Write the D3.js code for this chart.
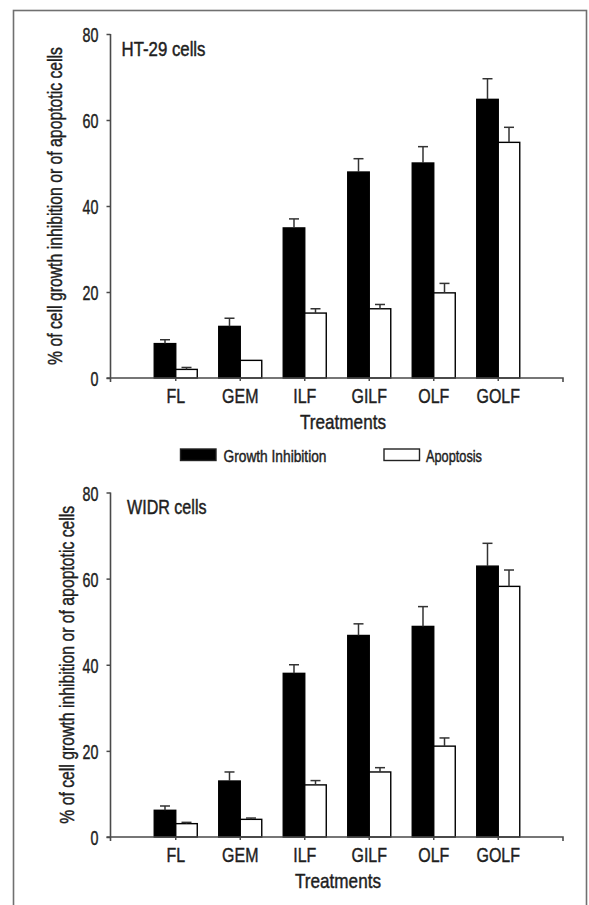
<!DOCTYPE html>
<html>
<head>
<meta charset="utf-8">
<script src="https://cdn.jsdelivr.net/npm/d3@7"></script>
<style>
  html, body { margin: 0; padding: 0; background: #fff; }
  svg { display: block; }
  text { font-family: "Liberation Sans", Arial, sans-serif; fill: #1e1e1e; stroke: #1e1e1e; stroke-width: 0.45px; }
</style>
</head>
<body>
<svg id="chart" width="589" height="905"></svg>
<script>
// ---------- data ----------
const categories = ["FL", "GEM", "ILF", "GILF", "OLF", "GOLF"];
const yTicks = [0, 20, 40, 60, 80];
const seriesNames = ["Growth Inhibition", "Apoptosis"];
const panelTitles = ["HT-29 cells", "WIDR cells"];
const xTitle = "Treatments";
const yTitle = "% of cell growth inhibition or of apoptotic cells";

const ht29Growth       = [8.0, 12.0, 34.9, 47.9, 50.0, 64.8];
const ht29GrowthErr    = [0.9, 1.9, 2.1, 3.1, 3.8, 4.8];
const ht29Apoptosis    = [2.0, 4.1, 15.1, 16.1, 19.8, 54.8];
const ht29ApoptosisErr = [0.45, 0, 1.0, 1.0, 2.2, 3.5];

const widrGrowth       = [6.2, 13.0, 38.0, 46.8, 48.9, 62.9];
const widrGrowthErr    = [1.0, 2.1, 2.0, 2.7, 4.6, 5.3];
const widrApoptosis    = [3.1, 4.1, 12.1, 15.1, 21.1, 58.2];
const widrApoptosisErr = [0.3, 0.3, 1.0, 1.0, 1.9, 3.8];

// ---------- layout ----------
const svg = d3.select("#chart");
const axisX = 110.5, axisEnd = 563;
const panels = [
  { title: panelTitles[0], top: 34, bottom: 378, titleX: 121.5, titleW: 84, ylabX: 62, xTitleX: 343,
    series: [[ht29Growth, ht29GrowthErr], [ht29Apoptosis, ht29ApoptosisErr]] },
  { title: panelTitles[1], top: 492.5, bottom: 837, titleX: 127, titleW: 79.5, ylabX: 73.5, xTitleX: 338,
    series: [[widrGrowth, widrGrowthErr], [widrApoptosis, widrApoptosisErr]] }
];
const fills = ["#000", "#fff"];
const axisColor = "#4a4a4a";

// frame
svg.append("rect").attr("x", 13.5).attr("y", 10.5).attr("width", 573).attr("height", 1000)
  .attr("fill", "none").attr("stroke", "#707070").attr("stroke-width", 1.6);

const x = d3.scaleBand().domain(categories).range([143.5, 530.5]).paddingInner(0.333).paddingOuter(0.1665);
const xs = d3.scaleBand().domain([0, 1]).range([0, x.bandwidth()]);

function condense(sel, f) {
  sel.each(function () {
    const L = this.getComputedTextLength();
    d3.select(this).attr("textLength", L * f).attr("lengthAdjust", "spacingAndGlyphs");
  });
}
function fitText(sel, w) {
  sel.attr("textLength", w).attr("lengthAdjust", "spacingAndGlyphs");
}

panels.forEach(p => {
  const y = d3.scaleLinear().domain([0, 80]).range([p.bottom, p.top]);
  const g = svg.append("g");

  // bars
  p.series.forEach((s, si) => {
    const [vals, errs] = s;
    const bars = g.append("g");
    bars.selectAll("rect").data(vals).join("rect")
      .attr("x", (d, i) => x(categories[i]) + xs(si))
      .attr("y", d => y(d))
      .attr("width", xs.bandwidth())
      .attr("height", d => y(0) - y(d))
      .attr("fill", fills[si])
      .attr("stroke", "#000").attr("stroke-width", 1.4);
    // error bars
    const eb = g.append("g").attr("stroke", "#333").attr("stroke-width", 1.5);
    vals.forEach((v, i) => {
      if (!errs[i]) return;
      const cx = x(categories[i]) + xs(si) + xs.bandwidth() / 2;
      eb.append("line").attr("x1", cx).attr("x2", cx).attr("y1", y(v)).attr("y2", y(v + errs[i]));
      eb.append("line").attr("x1", cx - 5).attr("x2", cx + 5).attr("y1", y(v + errs[i])).attr("y2", y(v + errs[i]));
    });
  });

  // y axis
  const ya = g.append("g").attr("transform", `translate(${axisX},0)`)
    .call(d3.axisLeft(y).tickValues(yTicks).tickSize(4).tickPadding(8).tickSizeOuter(0));
  ya.select(".domain").remove();
  ya.selectAll("line").attr("stroke", axisColor).attr("stroke-width", 1.5);
  ya.selectAll("text").style("font-size", "21px").attr("dy", "0.36em").call(condense, 0.68);
  g.append("line").attr("x1", axisX).attr("x2", axisX).attr("y1", y(80)).attr("y2", y(0) + 4)
    .attr("stroke", axisColor).attr("stroke-width", 1.6);

  // x axis
  const xa = g.append("g").attr("transform", `translate(0,${y(0)})`)
    .call(d3.axisBottom(x).tickSize(3).tickPadding(7).tickSizeOuter(0));
  xa.select(".domain").remove();
  xa.selectAll("line").attr("stroke", axisColor).attr("stroke-width", 1.5);
  xa.selectAll("text").style("font-size", "21px").call(condense, 0.76);
  g.append("path").attr("d", `M${axisX - 4},${y(0)}H${axisEnd}v4`)
    .attr("fill", "none").attr("stroke", axisColor).attr("stroke-width", 1.6);

  // titles
  g.append("text").attr("x", p.titleX).attr("y", y(80) + 21.5).style("font-size", "19.5px")
    .text(p.title).call(fitText, p.titleW);
  g.append("text").attr("x", p.xTitleX).attr("y", y(0) + 50.5).attr("text-anchor", "middle")
    .style("font-size", "21px").text(xTitle).call(fitText, 86);
  // rotated y title, condensed horizontally with a scale so its box stays true
  const yl = g.append("text").attr("text-anchor", "middle").style("font-size", "20px").text(yTitle);
  const natural = yl.node().getComputedTextLength();
  yl.attr("transform", `translate(${p.ylabX},${(y(0) + y(80)) / 2}) rotate(-90) scale(${318 / natural},1)`);
});

// legend
const legend = svg.append("g");
const legItems = [
  { x: 180.5, textX: 223.5, w: 103 },
  { x: 384, textX: 426, w: 56 }
];
seriesNames.forEach((name, i) => {
  legend.append("rect").attr("x", legItems[i].x).attr("y", 449).attr("width", 35.5).attr("height", 11.5)
    .attr("fill", fills[i]).attr("stroke", "#222").attr("stroke-width", 1.4);
  legend.append("text").attr("x", legItems[i].textX).attr("y", 461.5).style("font-size", "17px")
    .text(name).call(fitText, legItems[i].w);
});
</script>
</body>
</html>
